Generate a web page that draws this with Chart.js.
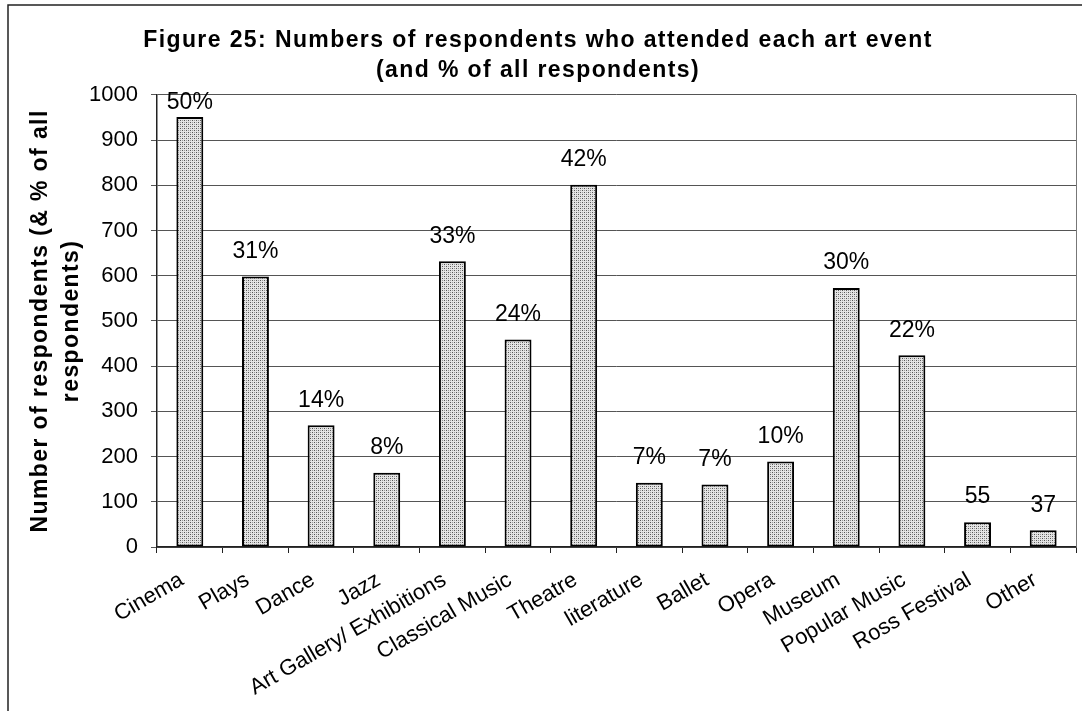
<!DOCTYPE html>
<html>
<head>
<meta charset="utf-8">
<script src="https://cdn.jsdelivr.net/npm/chart.js@4.4.1/dist/chart.umd.min.js"></script>
<style>
  html, body { margin: 0; padding: 0; background: #ffffff; }
  #wrap { position: relative; width: 1082px; height: 711px; }
</style>
</head>
<body>
<div id="wrap"><canvas id="chart" width="1082" height="711"></canvas></div>
<script>
// Art events and how many respondents attended each
const categories = ['Cinema', 'Plays', 'Dance', 'Jazz', 'Art Gallery/ Exhibitions', 'Classical Music',
  'Theatre', 'literature', 'Ballet', 'Opera', 'Museum', 'Popular Music', 'Ross Festival', 'Other'];
const attendees = [951, 598, 269, 164, 632, 459, 801, 142, 138, 189, 573, 424, 55, 37];
// Share of all respondents shown above each bar
const shareLabels = ['50%', '31%', '14%', '8%', '33%', '24%', '42%', '7%', '7%', '10%', '30%', '22%', '55', '37'];
const yTicks = [0, 100, 200, 300, 400, 500, 600, 700, 800, 900, 1000];

const FONT = "'Liberation Sans', Arial, Helvetica, sans-serif";

// Fine stipple fill for the bars
function stipple() {
  const c = document.createElement('canvas');
  c.width = 4; c.height = 4;
  const g = c.getContext('2d');
  g.fillStyle = '#e4e4e4';
  g.fillRect(0, 0, 4, 4);
  g.fillStyle = '#555555';
  g.fillRect(0, 0, 1, 1);
  g.fillRect(2, 2, 1, 1);
  g.fillStyle = '#9a9a9a';
  g.fillRect(2, 0, 1, 1);
  g.fillRect(0, 2, 1, 1);
  return g.createPattern(c, 'repeat');
}

// Outer frame, plot right edge, and wider spacing for the bold headings
const framePlugin = {
  id: 'frame',
  beforeDraw(chart) {
    const ctx = chart.ctx;
    ctx.save();
    ctx.fillStyle = '#ffffff';
    ctx.fillRect(0, 0, chart.width, chart.height);
    ctx.restore();
    ctx.letterSpacing = '1.4px';
  },
  beforeDatasetsDraw(chart) {
    chart.ctx.letterSpacing = '0px';
  },
  afterDraw(chart) {
    const ctx = chart.ctx;
    const a = chart.chartArea;
    ctx.save();
    ctx.strokeStyle = '#222222';
    ctx.lineWidth = 1.5;
    ctx.strokeRect(8, 5, chart.width + 20, chart.height + 20);
    ctx.strokeStyle = '#777777';
    ctx.lineWidth = 1;
    ctx.beginPath();
    ctx.moveTo(Math.round(a.right) + 0.5, a.top);
    ctx.lineTo(Math.round(a.right) + 0.5, a.bottom);
    ctx.stroke();
    ctx.restore();
  }
};

// Text labels above each bar
const barLabelPlugin = {
  id: 'barLabels',
  afterDatasetsDraw(chart) {
    const ctx = chart.ctx;
    const meta = chart.getDatasetMeta(0);
    ctx.save();
    ctx.letterSpacing = '0px';
    ctx.font = '23px ' + FONT;
    ctx.fillStyle = '#000000';
    ctx.textAlign = 'center';
    ctx.textBaseline = 'middle';
    meta.data.forEach((bar, i) => {
      const y = Math.max(bar.y - 25, chart.chartArea.top + 8);
      ctx.fillText(shareLabels[i], bar.x, y);
    });
    ctx.restore();
  }
};

new Chart(document.getElementById('chart'), {
  type: 'bar',
  data: {
    labels: categories,
    datasets: [{
      data: attendees,
      backgroundColor: stipple(),
      borderColor: '#000000',
      borderWidth: 2,
      borderSkipped: false,
      barPercentage: 0.41,
      categoryPercentage: 1.0
    }]
  },
  options: {
    responsive: false,
    animation: false,
    devicePixelRatio: 1,
    layout: { padding: { left: 0, right: 6, top: 0, bottom: 0 } },
    plugins: {
      legend: { display: false },
      tooltip: { enabled: false },
      title: {
        display: true,
        text: ['Figure 25: Numbers of respondents who attended each art event', '(and % of all respondents)'],
        color: '#000000',
        font: { family: FONT, size: 23, weight: 'bold', lineHeight: 1.3 },
        padding: { top: 26, bottom: 9 }
      }
    },
    scales: {
      x: {
        grid: {
          display: true,
          drawOnChartArea: false,
          drawTicks: true,
          tickLength: 6,
          color: '#222222',
          offset: true
        },
        border: { display: true, color: '#222222', width: 1.5 },
        ticks: {
          z: 1,
          autoSkip: false,
          minRotation: 30,
          maxRotation: 30,
          padding: 14,
          labelOffset: -8,
          color: '#000000',
          font: { family: FONT, size: 22 }
        },
        afterFit(scale) { scale.height = 164; }
      },
      y: {
        min: 0,
        max: 1000,
        afterBuildTicks(scale) { scale.ticks = yTicks.map(v => ({ value: v })); },
        grid: {
          color: '#555555',
          lineWidth: 1,
          tickLength: 6,
          drawTicks: true
        },
        border: { display: true, color: '#222222', width: 1.5 },
        ticks: {
          z: 1,
          padding: 13,
          color: '#000000',
          font: { family: FONT, size: 22 },
          callback: (v) => String(v)
        },
        title: {
          display: true,
          text: ['Number of respondents (& % of all', 'respondents)'],
          color: '#000000',
          font: { family: FONT, size: 23, weight: 'bold', lineHeight: 1.35 },
          padding: { top: 25, bottom: 0 }
        },
        afterFit(scale) { scale.width = 157; }
      }
    }
  },
  plugins: [framePlugin, barLabelPlugin]
});
</script>
</body>
</html>
